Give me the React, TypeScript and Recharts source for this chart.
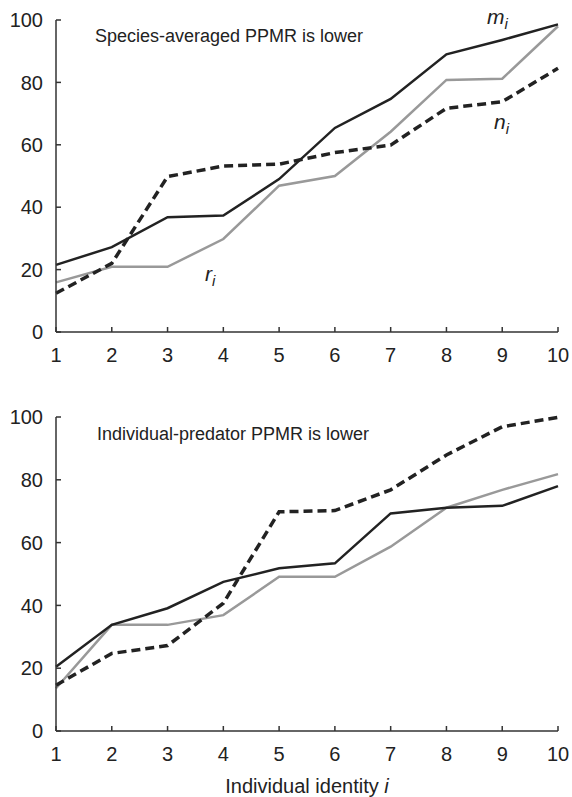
import { LineChart, Line, XAxis, YAxis, Customized } from 'recharts';

const individuals = [1, 2, 3, 4, 5, 6, 7, 8, 9, 10];
const yTicks = [0, 20, 40, 60, 80, 100];

// species-averaged PPMR is lower
const speciesM = [21.5, 27.2, 36.8, 37.3, 49, 65.4, 74.7, 89, 93.6, 98.6];
const speciesR = [15.9, 20.9, 20.9, 29.8, 46.9, 50, 64.2, 80.8, 81.2, 98];
const speciesN = [12.4, 22, 49.8, 53.2, 53.8, 57.5, 59.9, 71.7, 73.8, 84.5];

// individual-predator PPMR is lower
const predatorM = [20.5, 33.8, 39.1, 47.5, 51.8, 53.4, 69.3, 71.1, 71.7, 78];
const predatorR = [13.6, 33.8, 33.8, 36.9, 49.1, 49.1, 58.7, 71.1, 76.8, 81.8];
const predatorN = [14.6, 24.7, 27.2, 40.7, 69.8, 70.2, 76.8, 87.9, 96.9, 99.9];

const FONT = 'Liberation Sans, Arial, sans-serif';
const DARK = '#222';
const GREY = '#999';
const AXIS = '#333';

const toRows = (m: number[], r: number[], n: number[]) =>
  individuals.map((x, i) => ({ x, m: m[i], r: r[i], n: n[i] }));

const speciesData = toRows(speciesM, speciesR, speciesN);
const predatorData = toRows(predatorM, predatorR, predatorN);

const tickStyle = { fontSize: 20, fill: DARK, fontFamily: FONT };

function Symbol({ x, y, base }: { x: number; y: number; base: string }) {
  return (
    <text x={x} y={y} fontFamily={FONT} fontSize={21} fontStyle="italic" fill={DARK}>
      {base}
      <tspan dy={5} fontSize={15}>i</tspan>
    </text>
  );
}

function SpeciesNotes() {
  return (
    <g>
      <text x={95} y={42} fontFamily={FONT} fontSize={18} fill={DARK}>
        Species-averaged PPMR is lower
      </text>
      <Symbol x={487} y={24} base="m" />
      <Symbol x={494} y={129} base="n" />
      <Symbol x={205} y={281} base="r" />
    </g>
  );
}

function PredatorNotes() {
  return (
    <text x={97} y={440 - 380} fontFamily={FONT} fontSize={18} fill={DARK}>
      Individual-predator PPMR is lower
    </text>
  );
}

function AxisTitle({ viewBox }: any) {
  const cx = viewBox ? viewBox.x + viewBox.width / 2 : 307;
  const y = viewBox ? viewBox.y + 62 : 413;
  return (
    <text x={cx} y={y} textAnchor="middle" fontFamily={FONT} fontSize={20} fill={DARK}>
      Individual identity <tspan fontStyle="italic">i</tspan>
    </text>
  );
}

function Panel({
  data,
  height,
  margin,
  xHeight,
  notes,
  title,
}: {
  data: { x: number; m: number; r: number; n: number }[];
  height: number;
  margin: { top: number; right: number; bottom: number; left: number };
  xHeight: number;
  notes: any;
  title?: boolean;
}) {
  return (
    <LineChart width={572} height={height} data={data} margin={margin}>
      <XAxis
        dataKey="x"
        type="number"
        domain={[1, 10]}
        ticks={individuals}
        interval={0}
        height={xHeight}
        tickSize={-5}
        tickMargin={21}
        tick={tickStyle}
        stroke={AXIS}
        strokeWidth={1.5}
        label={title ? <AxisTitle /> : undefined}
      />
      <YAxis
        type="number"
        domain={[0, 100]}
        ticks={yTicks}
        width={56}
        tickSize={-5}
        tickMargin={18}
        tick={tickStyle}
        stroke={AXIS}
        strokeWidth={1.5}
      />
      <Line dataKey="r" stroke={GREY} strokeWidth={2.5} dot={false} isAnimationActive={false} />
      <Line dataKey="m" stroke={DARK} strokeWidth={2.5} dot={false} isAnimationActive={false} />
      <Line
        dataKey="n"
        stroke={DARK}
        strokeWidth={3.5}
        strokeDasharray="9 5"
        dot={false}
        isAnimationActive={false}
      />
      <Customized component={notes} />
    </LineChart>
  );
}

export default function App() {
  return (
    <div style={{ position: 'absolute', left: 0, top: 0, width: 572, height: 797, background: '#fff' }}>
      <Panel
        data={speciesData}
        height={380}
        margin={{ top: 20, right: 14, bottom: 18, left: 0 }}
        xHeight={30}
        notes={<SpeciesNotes />}
      />
      <Panel
        data={predatorData}
        height={417}
        margin={{ top: 37, right: 14, bottom: 0, left: 0 }}
        xHeight={66}
        notes={<PredatorNotes />}
        title
      />
    </div>
  );
}
